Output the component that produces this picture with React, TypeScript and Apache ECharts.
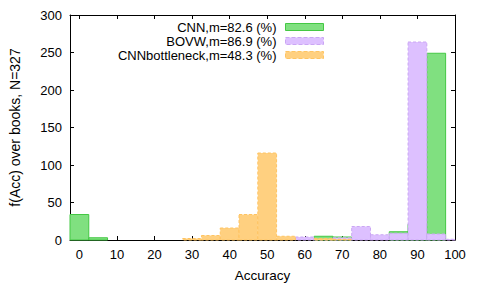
import React, { useEffect, useRef } from "react";
import * as echarts from "echarts";

const binCenters = [0, 5, 10, 15, 20, 25, 30, 35, 40, 45, 50, 55, 60, 65, 70, 75, 80, 85, 90, 95, 100];
const cnnCounts = [34, 3, 0, 0, 0, 0, 0, 0, 0, 0, 0, 0, 0, 5, 4, 0, 0, 11, 21, 249, 0];
const bovwCounts = [0, 0, 0, 0, 0, 0, 0, 0, 0, 0, 0, 0, 4, 1, 3, 18, 7, 9, 264, 8, 1];
const bottleneckCounts = [0, 0, 0, 0, 0, 0, 2, 6, 16, 34, 116, 5, 0, 2, 1, 0, 0, 0, 0, 0, 0];
const xTicks = [0, 10, 20, 30, 40, 50, 60, 70, 80, 90, 100];
const seriesNames = ["CNN,m=82.6 (%)", "BOVW,m=86.9 (%)", "CNNbottleneck,m=48.3 (%)"];

const FONT = "'Liberation Sans', Arial, Helvetica, sans-serif";

const styles = [
  { fill: "#80e080", stroke: "#44c844", dash: null as number[] | null },
  { fill: "#ddc0ff", stroke: "#cba6f4", dash: [3, 2] },
  { fill: "#ffd080", stroke: "#ffc462", dash: [3, 2] },
];

function makeSeries(name: string, counts: number[], idx: number) {
  const st = styles[idx];
  return {
    type: "custom",
    name,
    xAxisIndex: 0,
    yAxisIndex: 0,
    encode: { x: 0, y: 1 },
    itemStyle: { color: st.fill, borderColor: st.stroke },
    data: binCenters.map((c, i) => [c, counts[i]]),
    renderItem: (params: any, api: any) => {
      const c = api.value(0);
      const v = api.value(1);
      if (!v) return null;
      const p0 = api.coord([c - 2.5, 0]);
      const p1 = api.coord([c + 2.5, v]);
      const cs = params.coordSys;
      const rect = echarts.graphic.clipRectByRect(
        { x: p0[0], y: p1[1], width: p1[0] - p0[0], height: p0[1] - p1[1] },
        { x: cs.x, y: cs.y, width: cs.width, height: cs.height }
      );
      if (!rect) return null;
      return {
        type: "rect",
        shape: rect,
        style: {
          fill: st.fill,
          stroke: st.stroke,
          lineWidth: 1,
          lineDash: st.dash || undefined,
        },
      };
    },
  };
}

export default function App() {
  const ref = useRef<HTMLDivElement>(null);
  useEffect(() => {
    if (!ref.current) return;
    const chart = echarts.init(ref.current, null, { renderer: "svg" });
    const axisLineStyle = { color: "#000", width: 1 };
    chart.setOption({
      animation: false,
      textStyle: { fontFamily: FONT, color: "#000" },
      grid: { left: 68, top: 15, width: 387, height: 227 },
      legend: {
        orient: "vertical",
        right: 156,
        top: 20,
        align: "right",
        itemWidth: 38,
        itemHeight: 7,
        itemGap: 0,
        padding: 0,
        selectedMode: false,
        textStyle: { fontFamily: FONT, fontSize: 13, color: "#000", lineHeight: 14, padding: [0, 4, 0, 0] },
        data: seriesNames.map((n, i) => ({
          name: n,
          icon: "rect",
          itemStyle: {
            color: styles[i].fill,
            borderColor: styles[i].stroke,
            borderWidth: 1,
            borderType: styles[i].dash ? "dashed" : "solid",
          },
        })),
      },
      xAxis: [
        {
          type: "value",
          min: -2.5,
          max: 100,
          position: "bottom",
          name: "Accuracy",
          nameLocation: "middle",
          nameGap: 28,
          nameTextStyle: { fontFamily: FONT, fontSize: 13.5, color: "#000" },
          axisLine: { show: true, onZero: false, lineStyle: axisLineStyle },
          axisTick: { show: true, inside: true, length: 4, customValues: xTicks, lineStyle: axisLineStyle },
          axisLabel: { show: true, customValues: xTicks, fontSize: 13, color: "#000", margin: 8, fontFamily: FONT },
          splitLine: { show: false },
        },
        {
          type: "value",
          min: -2.5,
          max: 100,
          position: "top",
          axisLine: { show: true, onZero: false, lineStyle: axisLineStyle },
          axisTick: { show: true, inside: true, length: 4, customValues: xTicks, lineStyle: axisLineStyle },
          axisLabel: { show: false },
          splitLine: { show: false },
        },
      ],
      yAxis: [
        {
          type: "value",
          min: 0,
          max: 300,
          interval: 50,
          position: "left",
          name: "f(Acc) over books, N=327",
          nameLocation: "middle",
          nameGap: 48,
          nameTextStyle: { fontFamily: FONT, fontSize: 14, color: "#000" },
          axisLine: { show: true, onZero: false, lineStyle: axisLineStyle },
          axisTick: { show: true, inside: true, length: 4, lineStyle: axisLineStyle },
          axisLabel: { fontSize: 13, color: "#000", margin: 8, fontFamily: FONT },
          splitLine: { show: false },
        },
        {
          type: "value",
          min: 0,
          max: 300,
          interval: 50,
          position: "right",
          axisLine: { show: true, onZero: false, lineStyle: axisLineStyle },
          axisTick: { show: true, inside: true, length: 4, lineStyle: axisLineStyle },
          axisLabel: { show: false },
          splitLine: { show: false },
        },
      ],
      series: [
        makeSeries(seriesNames[0], cnnCounts, 0),
        makeSeries(seriesNames[1], bovwCounts, 1),
        makeSeries(seriesNames[2], bottleneckCounts, 2),
      ],
    });
    return () => chart.dispose();
  }, []);
  return (
    <div
      ref={ref}
      style={{ position: "fixed", left: 0, top: 0, width: 480, height: 287, background: "#fff" }}
    />
  );
}
